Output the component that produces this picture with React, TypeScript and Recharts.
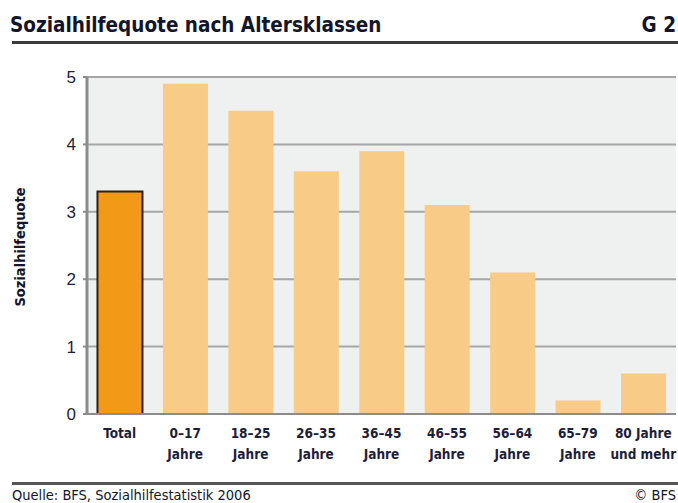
import { Bar, BarChart, CartesianGrid, Cell, XAxis, YAxis } from "recharts"

const categories = ["Total", "0–17 Jahre", "18–25 Jahre", "26–35 Jahre", "36–45 Jahre", "46–55 Jahre", "56–64 Jahre", "65–79 Jahre", "80 Jahre und mehr"]
const tickLines = [
  ["Total"],
  ["0–17", "Jahre"],
  ["18–25", "Jahre"],
  ["26–35", "Jahre"],
  ["36–45", "Jahre"],
  ["46–55", "Jahre"],
  ["56–64", "Jahre"],
  ["65–79", "Jahre"],
  ["80 Jahre", "und mehr"],
]
const quote = [3.3, 4.9, 4.5, 3.6, 3.9, 3.1, 2.1, 0.2, 0.6]
const yTicks = [0, 1, 2, 3, 4, 5]

const data = categories.map((name, i) => ({ name, quote: quote[i], lines: tickLines[i] }))

const narrow = '"Liberation Sans Narrow", "DejaVu Sans Condensed", "Liberation Sans", sans-serif'
const textColor = "#1e1e38"

function CategoryTick(props: any) {
  const { x, y, index } = props
  const lines = tickLines[index] || []
  return (
    <text x={x} y={y} textAnchor="middle" fontFamily={narrow} fontWeight="bold" fontSize={13.5} fill={textColor}>
      {lines.map((l, i) => (
        <tspan key={i} x={x} dy={i === 0 ? 16 : 21}>
          {l}
        </tspan>
      ))}
    </text>
  )
}

export default function App() {
  return (
    <div style={{ position: "absolute", left: 0, top: 0, width: 678, height: 503, background: "#fff", overflow: "hidden" }}>
      <BarChart
        width={678}
        height={503}
        data={data}
        margin={{ top: 77, right: 2, bottom: 39, left: 47 }}
        barCategoryGap="16%"
      >
        <CartesianGrid vertical={false} fill="#eff0f0" stroke="#a6a6a6" strokeWidth={2} />
        <XAxis
          dataKey="name"
          height={50}
          tickLine={false}
          tick={<CategoryTick />}
          interval={0}
          axisLine={{ stroke: "#8c8c8c", strokeWidth: 2 }}
        />
        <YAxis
          domain={[0, 5]}
          ticks={yTicks}
          width={40}
          tickSize={4}
          tickMargin={7}
          tickLine={{ stroke: "#8c8c8c", strokeWidth: 2 }}
          axisLine={{ stroke: "#8c8c8c", strokeWidth: 3 }}
          tick={{ fill: textColor, fontSize: 17, fontFamily: '"Liberation Sans", Arial, sans-serif' }}
        />
        <YAxis
          yAxisId="r"
          orientation="right"
          domain={[0, 5]}
          width={0}
          tick={false}
          tickLine={false}
          axisLine={{ stroke: "#a6a6a6", strokeWidth: 2 }}
        />
        <Bar dataKey="quote" isAnimationActive={false}>
          {data.map((d, i) => (
            <Cell
              key={d.name}
              fill={i === 0 ? "#f29a17" : "#f8cb87"}
              stroke={i === 0 ? "#2a2218" : "none"}
              strokeWidth={i === 0 ? 2 : 0}
            />
          ))}
        </Bar>
      </BarChart>
      <svg width={678} height={503} style={{ position: "absolute", left: 0, top: 0, pointerEvents: "none" }}>
        <text x={10} y={32} fontFamily={narrow} fontWeight="bold" fontSize={20.5} fill="#14142a">
          Sozialhilfequote nach Altersklassen
        </text>
        <text x={676} y={32} textAnchor="end" fontFamily={narrow} fontWeight="bold" fontSize={20.5} fill="#14142a">
          G 2
        </text>
        <line x1={12} x2={678} y1={42.5} y2={42.5} stroke="#3a3a3a" strokeWidth={3} />
        <text
          x={20}
          y={247}
          transform="rotate(-90 20 247)"
          textAnchor="middle"
          dominantBaseline="central"
          fontFamily={narrow}
          fontWeight="bold"
          fontSize={14.5}
          fill="#14142a"
        >
          Sozialhilfequote
        </text>
        <line x1={12} x2={678} y1={483.5} y2={483.5} stroke="#555" strokeWidth={3} />
        <text x={12} y={500} fontFamily={narrow} fontSize={14.5} fill="#14142a">
          Quelle: BFS, Sozialhilfestatistik 2006
        </text>
        <text x={676} y={500} textAnchor="end" fontFamily={narrow} fontSize={14.5} fill="#14142a">
          © BFS
        </text>
      </svg>
    </div>
  )
}
